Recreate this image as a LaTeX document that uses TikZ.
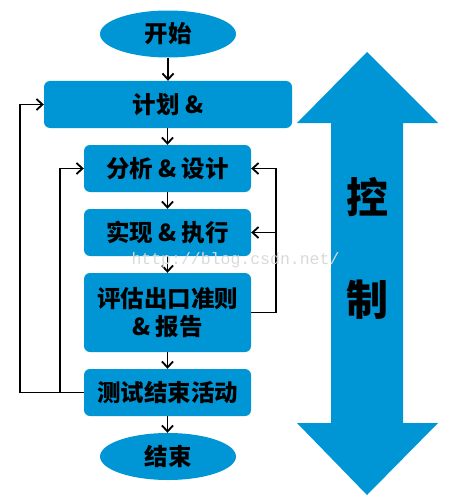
\documentclass[tikz,border=0pt]{standalone}
\usepackage{fontspec}
\usepackage{tikz}
\usetikzlibrary{shapes.geometric, arrows.meta, positioning}
\newfontfamily\cjk{Noto Sans CJK SC Black}
\newfontfamily\markfont{Liberation Mono}
\definecolor{flowblue}{RGB}{0,150,214}
\tikzset{
  stagebox/.style={
    fill=flowblue, rounded corners=6pt, align=center, inner sep=0pt,
    text=black, font=\cjk\fontsize{23.5}{28}\selectfont,
    minimum width=167pt, minimum height=47pt
  },
  stageend/.style={
    ellipse, fill=flowblue, inner sep=0pt,
    text=black, font=\cjk\fontsize{23.5}{28}\selectfont,
    minimum width=136pt, minimum height=47pt
  },
  flowarrow/.style={
    -{Straight Barb[length=6pt,width=11pt,line width=1.8pt]}, line width=1.8pt
  },
  ctrllabel/.style={
    text=black, font=\cjk\fontsize{42}{46}\selectfont
  },
}
\begin{document}
\begin{tikzpicture}[x=1pt, y=-1pt]
  \useasboundingbox (0,0) rectangle (450,500);

  % Control arrow
  \fill[flowblue] (367,52) -- (438,123) -- (403,123) -- (403,423) -- (438,423)
    -- (367,495) -- (297,423) -- (331,423) -- (331,123) -- (297,123) -- cycle;
  \node[ctrllabel] (ctrlA) at (367,197) {控};
  \node[ctrllabel] (ctrlB) at (367,300) {制};

  % Flow stages
  \node[stageend] (start) at (168,34) {开始};
  \node[stagebox, minimum width=248pt] (plan) at (168,104.5) {计划 \&};
  \node[stagebox] (analyse) at (167.5,168.5) {分析 \& 设计};
  \node[stagebox] (impl) at (167.5,232.5) {实现 \& 执行};
  \node[stagebox, minimum height=79pt] (eval) at (167.5,312.5)
    {评估出口准则\\\& 报告};
  \node[stagebox] (close) at (167.5,392.5) {测试结束活动};
  \node[stageend] (finish) at (168,456.5) {结束};

  % Main flow
  \draw[flowarrow] (start.south) -- (plan.north -| start.south);
  \draw[flowarrow] (plan.south -| analyse.north) -- (analyse.north);
  \draw[flowarrow] (analyse) -- (impl);
  \draw[flowarrow] (impl) -- (eval);
  \draw[flowarrow] (eval) -- (close);
  \draw[flowarrow] (close.south) -- (finish.north -| close.south);

  % Feedback loops
  \draw[flowarrow] (close.west) -- ++(-64,0) |- (plan.west);
  \draw[flowarrow] (close.west) -- ++(-24,0) |- (analyse.west);
  \draw[flowarrow] (eval.east) -- ++(25,0) |- (analyse.east);
  \draw[flowarrow] (eval.east) ++(25,0) |- (impl.east);

  % Watermark
  \node[font=\markfont\fontsize{16.5}{18}\selectfont, text=gray!30, anchor=west]
    (mark) at (128,260) {http://blog.csdn.net/};
\end{tikzpicture}
\end{document}
